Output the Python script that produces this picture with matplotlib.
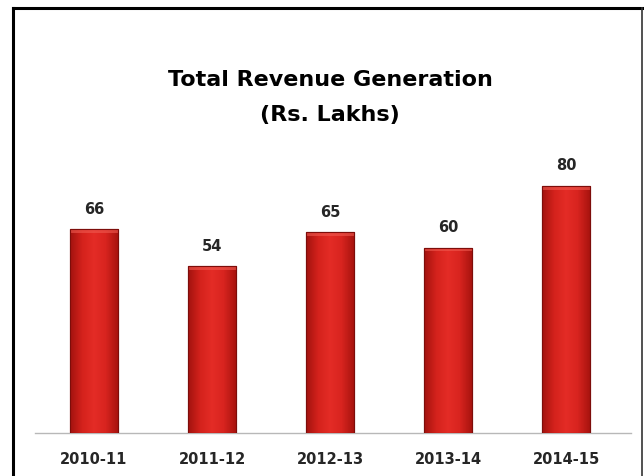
import numpy as np
import matplotlib
matplotlib.use("Agg")
import matplotlib.pyplot as plt
from matplotlib.colors import LinearSegmentedColormap
from matplotlib.lines import Line2D

years = ["2010-11", "2011-12", "2012-13", "2013-14", "2014-15"]
revenue = [66, 54, 65, 60, 80]

fig = plt.figure(figsize=(6.44, 4.76), dpi=100)
fig.patch.set_facecolor("white")

# plot area: baseline near the bottom, bars spread across the frame
ax = fig.add_axes([35 / 644, 43 / 476, 596 / 644, 309 / 476])
ax.set_xlim(-0.5, 4.55)
ax.set_ylim(0, 100)

x = np.arange(len(years))
bars = ax.bar(x, revenue, width=0.4, color="#d3201c", edgecolor="#8e0f0c",
              linewidth=0.8, zorder=2)

# shaded fill for each bar (darker sides, brighter middle)
red_cmap = LinearSegmentedColormap.from_list(
    "bar_red", ["#a3130f", "#d4221c", "#e42c26", "#d8241f", "#a9140f"])
grad = np.linspace(0, 1, 64).reshape(1, -1)
for b in bars:
    x0, y0 = b.get_x(), b.get_y()
    w, h = b.get_width(), b.get_height()
    im = ax.imshow(grad, cmap=red_cmap, aspect="auto",
                   extent=[x0, x0 + w, y0, y0 + h], zorder=3)
    im.set_clip_path(b)
    # lighter cap along the top edge
    ax.fill_between([x0, x0 + w], y0 + h - 1.2, y0 + h, color="#ef5a50",
                    alpha=0.6, zorder=4, linewidth=0)
    ax.add_patch(plt.Rectangle((x0, y0), w, h, fill=False,
                               edgecolor="#7d0d0a", linewidth=0.8, zorder=5))

for xi, v in zip(x, revenue):
    ax.annotate(str(v), (xi, v), xytext=(0, 9), textcoords="offset points",
                ha="center", va="bottom", fontsize=10.5, fontweight="bold",
                color="#262626")

ax.set_xticks(x)
ax.set_xticklabels(years, fontsize=10.5, fontweight="bold", color="#262626")
ax.tick_params(axis="x", length=0, pad=14)
ax.set_yticks([])
for side in ["left", "right", "top"]:
    ax.spines[side].set_visible(False)
ax.spines["bottom"].set_color("#b8b8b8")
ax.spines["bottom"].set_linewidth(1)

fig.text(0.513, 1 - 80 / 476, "Total Revenue Generation", ha="center",
         va="center", fontsize=16, fontweight="heavy", color="black")
fig.text(0.513, 1 - 115 / 476, "(Rs. Lakhs)", ha="center",
         va="center", fontsize=16, fontweight="heavy", color="black")

# outer frame, open at the bottom
L, R, T = 13 / 644, 642 / 644, 1 - 8 / 476
fig.add_artist(Line2D([L, L], [0, T], color="black", linewidth=2.2,
                      transform=fig.transFigure))
fig.add_artist(Line2D([L, R], [T, T], color="black", linewidth=2.2,
                      transform=fig.transFigure))
fig.add_artist(Line2D([R, R], [0, T], color="#333333", linewidth=1.2,
                      transform=fig.transFigure))

fig.savefig("out.png", dpi=100)
